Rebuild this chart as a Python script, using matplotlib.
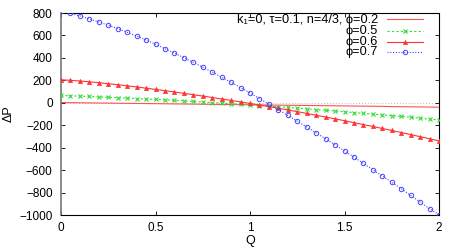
import matplotlib
matplotlib.use("Agg")
import matplotlib.pyplot as plt
from matplotlib.lines import Line2D
import numpy as np

plt.rcParams['font.family'] = ['Liberation Sans', 'DejaVu Sans']

Q = [0.00, 0.05, 0.10, 0.15, 0.20, 0.25, 0.30, 0.35, 0.40, 0.45,
     0.50, 0.55, 0.60, 0.65, 0.70, 0.75, 0.80, 0.85, 0.90, 0.95,
     1.00, 1.05, 1.10, 1.15, 1.20, 1.25, 1.30, 1.35, 1.40, 1.45,
     1.50, 1.55, 1.60, 1.65, 1.70, 1.75, 1.80, 1.85, 1.90, 1.95, 2.00]

dp_phi02 = [2, 1, 0, -1, -2, -3, -4, -5, -6, -7,
            -8, -9, -10, -11, -12, -13, -14, -15, -16, -17,
            -18, -19, -20, -21, -22, -23, -24, -25, -26, -27,
            -28, -29, -30, -31, -32, -34, -35, -36, -37, -38, -40]

dp_phi05 = [65, 62, 59, 56, 52, 49, 45, 42, 38, 34,
            30, 26, 21, 17, 12, 7, 2, -3, -8, -14,
            -19, -25, -30, -36, -42, -48, -54, -61, -67, -74,
            -80, -87, -94, -101, -108, -115, -122, -129, -137, -145, -153]

dp_phi06 = [205, 200, 194, 187, 179, 170, 161, 151, 141, 130,
            119, 108, 96, 84, 72, 60, 47, 34, 21, 8,
            -6, -20, -34, -49, -64, -79, -95, -111, -127, -143,
            -160, -177, -194, -211, -229, -247, -265, -283, -302, -321, -340]

dp_phi07 = [822, 796, 774, 747, 720, 691, 661, 628, 595, 559,
            523, 482, 443, 402, 360, 317, 273, 228, 182, 135,
            87, 38, -12, -62, -113, -164, -215, -268, -321, -375,
            -428, -484, -541, -597, -653, -708, -766, -825, -884, -944, -997]

labels = ['k₁=0, τ=0.1, n=4/3, ϕ=0.2', 'ϕ=0.5', 'ϕ=0.6', 'ϕ=0.7']
xticks = [0, 0.5, 1, 1.5, 2]
xticklabels = ['0', '0.5', '1', '1.5', '2']
yticks = [-1000, -800, -600, -400, -200, 0, 200, 400, 600, 800]

W, H = 464, 249
fig = plt.figure(figsize=(W/100, H/100), dpi=100)
ax = fig.add_axes([61/W, 1-215/H, (439-61)/W, (215-13)/H])

ax.axhline(0, color='#bbbbbb', lw=0.7, ls=(0, (1, 2)), zorder=1)

styles = [
    dict(color='#ff5050', lw=0.8),
    dict(color='#33dd33', lw=0.8, ls=(0, (2, 2)), marker='x', ms=3, mew=0.8),
    dict(color='#ff3333', lw=0.8, marker='^', ms=3, mew=0.5),
    dict(color='#4444ff', lw=0.8, ls=(0, (1, 1.5)), marker='o', ms=3.2,
         mew=0.7, mfc='none'),
]
series = [dp_phi02, dp_phi05, dp_phi06, dp_phi07]
for ys, st in zip(series, styles):
    ax.plot(Q, ys, zorder=3, **st)

ax.set_xlim(0, 2)
ax.set_ylim(-1000, 800)
ax.set_xticks(xticks)
ax.set_xticklabels(xticklabels)
ax.set_yticks(yticks)
ax.tick_params(direction='in', length=3, width=0.6, top=True, right=True,
               labelsize=8.5)
ax.tick_params(axis='y', pad=6)
ax.tick_params(axis='x', pad=5)
for s in ax.spines.values():
    s.set_linewidth(0.8)
ax.spines['left'].set_color('#777777')
ax.spines['left'].set_linewidth(1.2)

ax.set_xlabel('Q', fontsize=9, labelpad=1)
ax.set_ylabel('ΔP', fontsize=9, labelpad=3)

# gnuplot-style key: text right-aligned, sample to the right
row_y = [19.5, 31, 41.8, 52.4]
for lab, st, yy in zip(labels, styles, row_y):
    fy = 1 - yy/H
    fig.text(378/W, fy, lab, ha='right', va='center', fontsize=9.2)
    st2 = dict(st)
    mk = st2.pop('marker', None)
    ms = st2.pop('ms', None)
    mew = st2.pop('mew', None)
    mfc = st2.pop('mfc', None)
    fig.add_artist(Line2D([387/W, 423/W], [fy, fy], transform=fig.transFigure,
                          **st2))
    if mk is not None:
        kw = dict(color=st['color'], marker=mk, ms=ms, mew=mew, ls='none')
        if mfc:
            kw['mfc'] = mfc
        fig.add_artist(Line2D([405/W], [fy], transform=fig.transFigure, **kw))

fig.savefig('out.png', dpi=100)
